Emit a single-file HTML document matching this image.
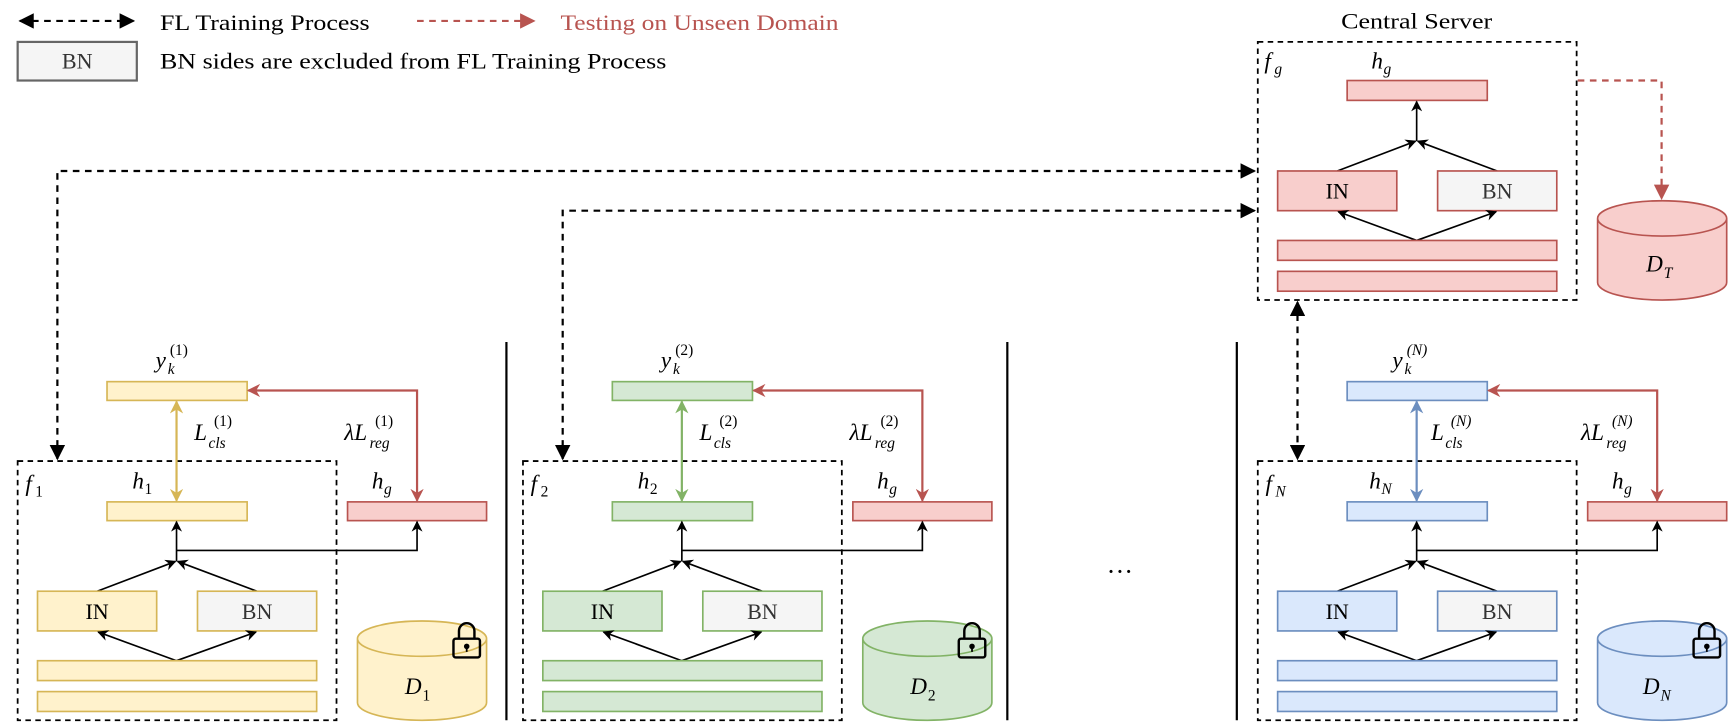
<!DOCTYPE html>
<html><head><meta charset="utf-8"><style>html,body{margin:0;padding:0;background:#fff}svg{display:block}
text{font-family:"Liberation Serif",serif;fill:#000}
.m{font-style:italic;font-size:21px}
.s{font-style:italic;font-size:14px}
.n{font-size:14px}
</style></head><body>
<svg width="1730" height="728" viewBox="0 0 1568 660" preserveAspectRatio="none" xmlns="http://www.w3.org/2000/svg">
<defs>
<marker id="ak" viewBox="0 0 10 10" refX="9" refY="5" markerWidth="10" markerHeight="10" markerUnits="userSpaceOnUse" orient="auto-start-reverse"><path d="M0,0 L10,5 L0,10 L3,5 z" fill="#000"/></marker>
<marker id="aK" viewBox="0 0 10 10" refX="9" refY="5" markerWidth="14" markerHeight="14" markerUnits="userSpaceOnUse" orient="auto-start-reverse"><path d="M0,0 L10,5 L0,10 z" fill="#000"/></marker>
<marker id="ar" viewBox="0 0 10 10" refX="9" refY="5" markerWidth="12" markerHeight="12" markerUnits="userSpaceOnUse" orient="auto-start-reverse"><path d="M0,0 L10,5 L0,10 L3,5 z" fill="#b85450"/></marker>
<marker id="aR" viewBox="0 0 10 10" refX="9" refY="5" markerWidth="14" markerHeight="14" markerUnits="userSpaceOnUse" orient="auto-start-reverse"><path d="M0,0 L10,5 L0,10 z" fill="#b85450"/></marker>
<marker id="ay" viewBox="0 0 10 10" refX="9" refY="5" markerWidth="12" markerHeight="12" markerUnits="userSpaceOnUse" orient="auto-start-reverse"><path d="M0,0 L10,5 L0,10 L3,5 z" fill="#d6b656"/></marker>
<marker id="ag" viewBox="0 0 10 10" refX="9" refY="5" markerWidth="12" markerHeight="12" markerUnits="userSpaceOnUse" orient="auto-start-reverse"><path d="M0,0 L10,5 L0,10 L3,5 z" fill="#82b366"/></marker>
<marker id="ab" viewBox="0 0 10 10" refX="9" refY="5" markerWidth="12" markerHeight="12" markerUnits="userSpaceOnUse" orient="auto-start-reverse"><path d="M0,0 L10,5 L0,10 L3,5 z" fill="#6c8ebf"/></marker>
</defs>

<!-- legend -->
<line x1="18" y1="19" x2="121" y2="19" stroke="#000" stroke-width="2" stroke-dasharray="6,5" marker-start="url(#aK)" marker-end="url(#aK)"/>
<text x="145" y="27" font-size="20" textLength="190" lengthAdjust="spacingAndGlyphs">FL Training Process</text>
<line x1="378" y1="19" x2="484" y2="19" stroke="#b85450" stroke-width="2" stroke-dasharray="6,5" marker-end="url(#aR)"/>
<text x="508" y="27" font-size="20" style="fill:#b85450" textLength="252" lengthAdjust="spacingAndGlyphs">Testing on Unseen Domain</text>
<rect x="16" y="38" width="108" height="35" fill="#f5f5f5" stroke="#666" stroke-width="2"/>
<text x="70" y="62" font-size="20" text-anchor="middle" style="fill:#333">BN</text>
<text x="145" y="62" font-size="20" textLength="459" lengthAdjust="spacingAndGlyphs">BN sides are excluded from FL Training Process</text>

<!-- central server -->
<text x="1284" y="26" font-size="20" text-anchor="middle" textLength="137" lengthAdjust="spacingAndGlyphs">Central Server</text>
<rect x="1140" y="38" width="289" height="234" fill="none" stroke="#000" stroke-width="1.6" stroke-dasharray="5,4"/>
<text class="m" x="1146" y="62">f</text><text class="s" x="1155" y="67">g</text>
<text class="m" x="1243" y="62">h</text><text class="s" x="1254" y="67">g</text>
<rect x="1221" y="73" width="127" height="18" fill="#f8cecc" stroke="#b85450" stroke-width="1.5"/>
<line x1="1284" y1="128" x2="1284" y2="92" stroke="#000" stroke-width="1.5" marker-end="url(#ak)"/>
<line x1="1212" y1="155" x2="1283" y2="128" stroke="#000" stroke-width="1.5" marker-end="url(#ak)"/>
<line x1="1357" y1="155" x2="1285" y2="128" stroke="#000" stroke-width="1.5" marker-end="url(#ak)"/>
<rect x="1158" y="155" width="108" height="36" fill="#f8cecc" stroke="#b85450" stroke-width="1.5"/>
<text x="1212" y="180" font-size="20" text-anchor="middle">IN</text>
<rect x="1303" y="155" width="108" height="36" fill="#f5f5f5" stroke="#b85450" stroke-width="1.5"/>
<text x="1357" y="180" font-size="20" text-anchor="middle" style="fill:#333">BN</text>
<line x1="1284" y1="218" x2="1213" y2="192" stroke="#000" stroke-width="1.5" marker-end="url(#ak)"/>
<line x1="1284" y1="218" x2="1356" y2="192" stroke="#000" stroke-width="1.5" marker-end="url(#ak)"/>
<rect x="1158" y="218" width="253" height="18" fill="#f8cecc" stroke="#b85450" stroke-width="1.5"/>
<rect x="1158" y="246" width="253" height="18" fill="#f8cecc" stroke="#b85450" stroke-width="1.5"/>
<polyline points="1430,73 1506,73 1506,180" fill="none" stroke="#b85450" stroke-width="2" stroke-dasharray="6,5" marker-end="url(#aR)"/>
<path d="M1448,198 L1448,256 A58.5,16 0 0 0 1565,256 L1565,198 A58.5,16 0 0 0 1448,198 A58.5,16 0 0 0 1565,198" fill="#f8cecc" stroke="#b85450" stroke-width="1.5"/>
<text class="m" x="1492" y="246">D</text><text class="s" x="1508" y="252">T</text>

<!-- training dashed arrows -->
<polyline points="52,416 52,155 1137,155" fill="none" stroke="#000" stroke-width="2" stroke-dasharray="6,5" marker-start="url(#aK)" marker-end="url(#aK)"/>
<polyline points="510,416 510,191 1137,191" fill="none" stroke="#000" stroke-width="2" stroke-dasharray="6,5" marker-start="url(#aK)" marker-end="url(#aK)"/>
<line x1="1176" y1="274" x2="1176" y2="416" stroke="#000" stroke-width="2" stroke-dasharray="6,5" marker-start="url(#aK)" marker-end="url(#aK)"/>

<!-- separators -->
<line x1="459" y1="310" x2="459" y2="653" stroke="#000" stroke-width="2"/>
<line x1="913" y1="310" x2="913" y2="653" stroke="#000" stroke-width="2"/>
<line x1="1121" y1="310" x2="1121" y2="653" stroke="#000" stroke-width="2"/>
<text x="1015" y="526" font-size="24" text-anchor="middle">···</text>

<!-- client 1 -->
<g transform="translate(0,0)">
<rect x="16" y="418" width="289" height="235" fill="none" stroke="#000" stroke-width="1.6" stroke-dasharray="5,4"/>
<text class="m" x="23" y="445">f</text><text class="n" x="32" y="450">1</text>
<text class="m" x="120" y="443">h</text><text class="n" x="131" y="448">1</text>
<text class="m" x="337" y="443">h</text><text class="s" x="348" y="448">g</text>
<text class="m" x="141" y="333">y</text><text class="s" x="152" y="339">k</text><text class="n" x="154" y="322">(1)</text>
<text class="m" x="176" y="399">L</text><text class="s" x="189" y="406">cls</text><text class="n" x="194" y="386">(1)</text>
<text class="m" x="312" y="399">λL</text><text class="s" x="335" y="406">reg</text><text class="n" x="340" y="386">(1)</text>
<rect x="97" y="346" width="127" height="17" fill="#fff2cc" stroke="#d6b656" stroke-width="1.5"/>
<rect x="97" y="455" width="127" height="17" fill="#fff2cc" stroke="#d6b656" stroke-width="1.5"/>
<rect x="315" y="455" width="126" height="17" fill="#f8cecc" stroke="#b85450" stroke-width="1.5"/>
<polyline points="378,454 378,354 225,354" fill="none" stroke="#b85450" stroke-width="2" marker-start="url(#ar)" marker-end="url(#ar)"/>
<line x1="160" y1="364" x2="160" y2="454" stroke="#d6b656" stroke-width="2" marker-start="url(#ay)" marker-end="url(#ay)"/>
<line x1="160" y1="509" x2="160" y2="473" stroke="#000" stroke-width="1.5" marker-end="url(#ak)"/>
<polyline points="160,499 378,499 378,473" fill="none" stroke="#000" stroke-width="1.5" marker-end="url(#ak)"/>
<line x1="88" y1="536" x2="159" y2="509" stroke="#000" stroke-width="1.5" marker-end="url(#ak)"/>
<line x1="233" y1="536" x2="161" y2="509" stroke="#000" stroke-width="1.5" marker-end="url(#ak)"/>
<rect x="34" y="536" width="108" height="36" fill="#fff2cc" stroke="#d6b656" stroke-width="1.5"/>
<text x="88" y="561" font-size="20" text-anchor="middle">IN</text>
<rect x="179" y="536" width="108" height="36" fill="#f5f5f5" stroke="#d6b656" stroke-width="1.5"/>
<text x="233" y="561" font-size="20" text-anchor="middle" style="fill:#333">BN</text>
<line x1="160" y1="599" x2="89" y2="573" stroke="#000" stroke-width="1.5" marker-end="url(#ak)"/>
<line x1="160" y1="599" x2="232" y2="573" stroke="#000" stroke-width="1.5" marker-end="url(#ak)"/>
<rect x="34" y="599" width="253" height="18" fill="#fff2cc" stroke="#d6b656" stroke-width="1.5"/>
<rect x="34" y="627" width="253" height="18" fill="#fff2cc" stroke="#d6b656" stroke-width="1.5"/>
<path d="M324,579 L324,637 A58.5,16 0 0 0 441,637 L441,579 A58.5,16 0 0 0 324,579 A58.5,16 0 0 0 441,579" fill="#fff2cc" stroke="#d6b656" stroke-width="1.5"/>
<text class="m" x="367" y="629">D</text><text class="n" x="383" y="635">1</text>
<path d="M416,579 L416,572 A7,7 0 0 1 430,572 L430,579" fill="none" stroke="#000" stroke-width="2.2"/>
<rect x="411" y="579" width="24" height="17" rx="2" fill="none" stroke="#000" stroke-width="2.2"/>
<circle cx="423" cy="586" r="2.5" fill="#000"/><line x1="423" y1="586" x2="423" y2="591" stroke="#000" stroke-width="1.6"/>
</g>

<!-- client 2 -->
<g transform="translate(458,0)">
<rect x="16" y="418" width="289" height="235" fill="none" stroke="#000" stroke-width="1.6" stroke-dasharray="5,4"/>
<text class="m" x="23" y="445">f</text><text class="n" x="32" y="450">2</text>
<text class="m" x="120" y="443">h</text><text class="n" x="131" y="448">2</text>
<text class="m" x="337" y="443">h</text><text class="s" x="348" y="448">g</text>
<text class="m" x="141" y="333">y</text><text class="s" x="152" y="339">k</text><text class="n" x="154" y="322">(2)</text>
<text class="m" x="176" y="399">L</text><text class="s" x="189" y="406">cls</text><text class="n" x="194" y="386">(2)</text>
<text class="m" x="312" y="399">λL</text><text class="s" x="335" y="406">reg</text><text class="n" x="340" y="386">(2)</text>
<rect x="97" y="346" width="127" height="17" fill="#d5e8d4" stroke="#82b366" stroke-width="1.5"/>
<rect x="97" y="455" width="127" height="17" fill="#d5e8d4" stroke="#82b366" stroke-width="1.5"/>
<rect x="315" y="455" width="126" height="17" fill="#f8cecc" stroke="#b85450" stroke-width="1.5"/>
<polyline points="378,454 378,354 225,354" fill="none" stroke="#b85450" stroke-width="2" marker-start="url(#ar)" marker-end="url(#ar)"/>
<line x1="160" y1="364" x2="160" y2="454" stroke="#82b366" stroke-width="2" marker-start="url(#ag)" marker-end="url(#ag)"/>
<line x1="160" y1="509" x2="160" y2="473" stroke="#000" stroke-width="1.5" marker-end="url(#ak)"/>
<polyline points="160,499 378,499 378,473" fill="none" stroke="#000" stroke-width="1.5" marker-end="url(#ak)"/>
<line x1="88" y1="536" x2="159" y2="509" stroke="#000" stroke-width="1.5" marker-end="url(#ak)"/>
<line x1="233" y1="536" x2="161" y2="509" stroke="#000" stroke-width="1.5" marker-end="url(#ak)"/>
<rect x="34" y="536" width="108" height="36" fill="#d5e8d4" stroke="#82b366" stroke-width="1.5"/>
<text x="88" y="561" font-size="20" text-anchor="middle">IN</text>
<rect x="179" y="536" width="108" height="36" fill="#f5f5f5" stroke="#82b366" stroke-width="1.5"/>
<text x="233" y="561" font-size="20" text-anchor="middle" style="fill:#333">BN</text>
<line x1="160" y1="599" x2="89" y2="573" stroke="#000" stroke-width="1.5" marker-end="url(#ak)"/>
<line x1="160" y1="599" x2="232" y2="573" stroke="#000" stroke-width="1.5" marker-end="url(#ak)"/>
<rect x="34" y="599" width="253" height="18" fill="#d5e8d4" stroke="#82b366" stroke-width="1.5"/>
<rect x="34" y="627" width="253" height="18" fill="#d5e8d4" stroke="#82b366" stroke-width="1.5"/>
<path d="M324,579 L324,637 A58.5,16 0 0 0 441,637 L441,579 A58.5,16 0 0 0 324,579 A58.5,16 0 0 0 441,579" fill="#d5e8d4" stroke="#82b366" stroke-width="1.5"/>
<text class="m" x="367" y="629">D</text><text class="n" x="383" y="635">2</text>
<path d="M416,579 L416,572 A7,7 0 0 1 430,572 L430,579" fill="none" stroke="#000" stroke-width="2.2"/>
<rect x="411" y="579" width="24" height="17" rx="2" fill="none" stroke="#000" stroke-width="2.2"/>
<circle cx="423" cy="586" r="2.5" fill="#000"/><line x1="423" y1="586" x2="423" y2="591" stroke="#000" stroke-width="1.6"/>
</g>

<!-- client N -->
<g transform="translate(1124,0)">
<rect x="16" y="418" width="289" height="235" fill="none" stroke="#000" stroke-width="1.6" stroke-dasharray="5,4"/>
<text class="m" x="23" y="445">f</text><text class="s" x="32" y="450">N</text>
<text class="m" x="117" y="443">h</text><text class="s" x="128" y="448">N</text>
<text class="m" x="337" y="443">h</text><text class="s" x="348" y="448">g</text>
<text class="m" x="138" y="333">y</text><text class="s" x="149" y="339">k</text><text class="n" x="151" y="322" font-style="italic">(N)</text>
<text class="m" x="173" y="399">L</text><text class="s" x="186" y="406">cls</text><text class="n" x="191" y="386" font-style="italic">(N)</text>
<text class="m" x="309" y="399">λL</text><text class="s" x="332" y="406">reg</text><text class="n" x="337" y="386" font-style="italic">(N)</text>
<rect x="97" y="346" width="127" height="17" fill="#dae8fc" stroke="#6c8ebf" stroke-width="1.5"/>
<rect x="97" y="455" width="127" height="17" fill="#dae8fc" stroke="#6c8ebf" stroke-width="1.5"/>
<rect x="315" y="455" width="126" height="17" fill="#f8cecc" stroke="#b85450" stroke-width="1.5"/>
<polyline points="378,454 378,354 225,354" fill="none" stroke="#b85450" stroke-width="2" marker-start="url(#ar)" marker-end="url(#ar)"/>
<line x1="160" y1="364" x2="160" y2="454" stroke="#6c8ebf" stroke-width="2" marker-start="url(#ab)" marker-end="url(#ab)"/>
<line x1="160" y1="509" x2="160" y2="473" stroke="#000" stroke-width="1.5" marker-end="url(#ak)"/>
<polyline points="160,499 378,499 378,473" fill="none" stroke="#000" stroke-width="1.5" marker-end="url(#ak)"/>
<line x1="88" y1="536" x2="159" y2="509" stroke="#000" stroke-width="1.5" marker-end="url(#ak)"/>
<line x1="233" y1="536" x2="161" y2="509" stroke="#000" stroke-width="1.5" marker-end="url(#ak)"/>
<rect x="34" y="536" width="108" height="36" fill="#dae8fc" stroke="#6c8ebf" stroke-width="1.5"/>
<text x="88" y="561" font-size="20" text-anchor="middle">IN</text>
<rect x="179" y="536" width="108" height="36" fill="#f5f5f5" stroke="#6c8ebf" stroke-width="1.5"/>
<text x="233" y="561" font-size="20" text-anchor="middle" style="fill:#333">BN</text>
<line x1="160" y1="599" x2="89" y2="573" stroke="#000" stroke-width="1.5" marker-end="url(#ak)"/>
<line x1="160" y1="599" x2="232" y2="573" stroke="#000" stroke-width="1.5" marker-end="url(#ak)"/>
<rect x="34" y="599" width="253" height="18" fill="#dae8fc" stroke="#6c8ebf" stroke-width="1.5"/>
<rect x="34" y="627" width="253" height="18" fill="#dae8fc" stroke="#6c8ebf" stroke-width="1.5"/>
<path d="M324,579 L324,637 A58.5,16 0 0 0 441,637 L441,579 A58.5,16 0 0 0 324,579 A58.5,16 0 0 0 441,579" fill="#dae8fc" stroke="#6c8ebf" stroke-width="1.5"/>
<text class="m" x="365" y="629">D</text><text class="s" x="381" y="635">N</text>
<path d="M416,579 L416,572 A7,7 0 0 1 430,572 L430,579" fill="none" stroke="#000" stroke-width="2.2"/>
<rect x="411" y="579" width="24" height="17" rx="2" fill="none" stroke="#000" stroke-width="2.2"/>
<circle cx="423" cy="586" r="2.5" fill="#000"/><line x1="423" y1="586" x2="423" y2="591" stroke="#000" stroke-width="1.6"/>
</g>
</svg>
</body></html>
